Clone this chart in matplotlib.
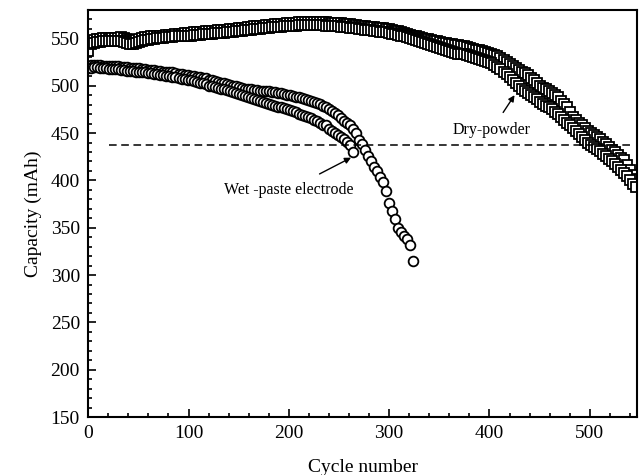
import numpy as np
import matplotlib
matplotlib.use("Agg")
import matplotlib.pyplot as plt

# Capacity (mAh) vs cycle number, two cells per electrode type, read every 3 cycles
dry_cycles = np.arange(0, 547, 3)
dry_a = [546, 547, 548, 549, 549, 550, 550, 549, 550, 550,
         550, 551, 550, 549, 548, 547, 548, 549, 550, 551,
         551, 552, 552, 553, 553, 553, 554, 554, 554, 555,
         555, 555, 556, 556, 556, 557, 557, 557, 557, 558,
         558, 558, 558, 559, 559, 559, 559, 560, 560, 560,
         561, 561, 561, 562, 562, 563, 563, 563, 563, 564,
         564, 564, 565, 565, 565, 565, 566, 566, 566, 566,
         567, 567, 567, 567, 567, 567, 567, 567, 567, 567,
         566, 566, 566, 566, 566, 565, 565, 565, 564, 564,
         563, 563, 563, 562, 562, 562, 561, 561, 561, 560,
         560, 559, 558, 558, 557, 556, 555, 554, 553, 552,
         551, 550, 549, 549, 548, 547, 547, 546, 545, 545,
         544, 544, 543, 543, 542, 542, 541, 540, 539, 538,
         538, 537, 536, 535, 534, 532, 531, 529, 527, 525,
         523, 521, 519, 517, 515, 513, 511, 508, 506, 503,
         500, 498, 496, 494, 492, 490, 488, 484, 481, 477,
         472, 467, 464, 461, 458, 455, 452, 450, 448, 446,
         444, 441, 438, 435, 432, 430, 427, 424, 421, 416,
         411, 406, 401]
dry_b = [537, 544, 545, 546, 546, 547, 547, 547, 547, 547,
         547, 547, 546, 545, 544, 544, 545, 546, 547, 548,
         548, 549, 549, 550, 550, 550, 551, 551, 551, 552,
         552, 552, 553, 553, 553, 554, 554, 554, 555, 555,
         555, 555, 556, 556, 556, 556, 557, 557, 557, 558,
         558, 558, 559, 559, 559, 560, 560, 560, 561, 561,
         561, 562, 562, 562, 562, 563, 563, 563, 563, 563,
         564, 564, 564, 564, 564, 564, 564, 564, 564, 563,
         563, 563, 563, 563, 562, 562, 562, 561, 561, 561,
         560, 560, 559, 559, 559, 558, 558, 557, 557, 557,
         556, 555, 555, 554, 553, 552, 551, 550, 549, 548,
         547, 546, 545, 544, 543, 542, 541, 540, 539, 538,
         537, 536, 535, 534, 533, 533, 532, 531, 530, 529,
         528, 527, 526, 525, 524, 522, 520, 518, 515, 512,
         509, 506, 503, 500, 497, 494, 492, 490, 488, 486,
         483, 481, 479, 477, 475, 472, 470, 467, 464, 461,
         458, 455, 452, 449, 446, 443, 440, 437, 435, 433,
         431, 428, 426, 423, 420, 417, 414, 411, 408, 405,
         400, 396, 393]

wet_cycles_a = np.arange(0, 325, 3)
wet_a = [521, 522, 522, 522, 522, 521, 521, 521, 521, 521,
         521, 520, 520, 520, 519, 519, 519, 519, 518, 518,
         517, 517, 517, 516, 516, 515, 515, 514, 514, 513,
         512, 512, 511, 511, 510, 510, 509, 509, 508, 508,
         506, 506, 505, 504, 503, 503, 502, 501, 500, 500,
         499, 498, 497, 497, 496, 495, 495, 494, 494, 494,
         494, 493, 493, 492, 492, 491, 490, 490, 489, 488,
         488, 487, 486, 485, 484, 483, 482, 481, 479, 478,
         475, 473, 471, 469, 466, 463, 461, 458, 454, 450,
         443, 438, 432, 426, 420, 414, 410, 404, 398, 389,
         376, 368, 359, 350, 345, 341, 338, 332, 315]
wet_cycles_b = np.arange(0, 265, 3)
wet_b = [519, 519, 520, 520, 519, 519, 519, 518, 518, 518,
         518, 517, 517, 516, 516, 516, 515, 515, 514, 514,
         513, 513, 512, 512, 511, 511, 510, 510, 509, 509,
         508, 507, 507, 506, 506, 505, 504, 503, 503, 502,
         500, 500, 499, 498, 497, 496, 495, 494, 493, 492,
         491, 490, 489, 488, 487, 486, 485, 484, 483, 482,
         481, 480, 479, 478, 477, 476, 475, 474, 473, 472,
         470, 469, 468, 467, 466, 464, 463, 461, 459, 458,
         454, 452, 450, 448, 446, 444, 441, 437, 430]

cutoff = 437

plt.rcParams["font.family"] = ["Liberation Serif", "DejaVu Serif"]

fig = plt.figure(figsize=(6.44, 4.75), dpi=100)
ax = fig.add_axes([0.137, 0.122, 0.852, 0.857])

mk = dict(linestyle="none", markerfacecolor="white", markeredgecolor="black",
          markeredgewidth=1.3, markersize=7)
ax.plot(dry_cycles, dry_a, marker="s", **mk)
ax.plot(dry_cycles, dry_b, marker="s", **mk)
ax.plot(wet_cycles_a, wet_a, marker="o", **mk)
ax.plot(wet_cycles_b, wet_b, marker="o", **mk)

ax.hlines(cutoff, 21, 543, colors="black", linestyles=(0, (5, 3)), linewidth=1.1)

ax.annotate("Dry-powder", xy=(425, 490), xytext=(402, 453),
            ha="center", va="center", fontsize=11.5,
            arrowprops=dict(arrowstyle="-|>", color="black", lw=1, shrinkA=6, shrinkB=0,
                            mutation_scale=9))
ax.annotate("Wet -paste electrode", xy=(262, 424), xytext=(200, 390),
            ha="center", va="center", fontsize=11.5,
            arrowprops=dict(arrowstyle="-|>", color="black", lw=1, shrinkA=8, shrinkB=0,
                            mutation_scale=9))

ax.set_xlim(0, 547)
ax.set_ylim(150, 580)
ax.set_xticks(np.arange(0, 501, 100))
ax.set_xticks(np.arange(0, 547, 20), minor=True)
ax.set_yticks(np.arange(150, 551, 50))
ax.set_yticks(np.arange(150, 580, 10), minor=True)
ax.tick_params(which="both", direction="in", top=False, right=False, labelsize=14, width=1.2)
ax.tick_params(which="major", length=6, pad=6)
ax.tick_params(which="minor", length=3)
for s in ax.spines.values():
    s.set_linewidth(1.5)

ax.set_xlabel("Cycle number", fontsize=14, labelpad=12)
ax.set_ylabel("Capacity (mAh)", fontsize=14, labelpad=6)

fig.savefig("out.png", dpi=100)
